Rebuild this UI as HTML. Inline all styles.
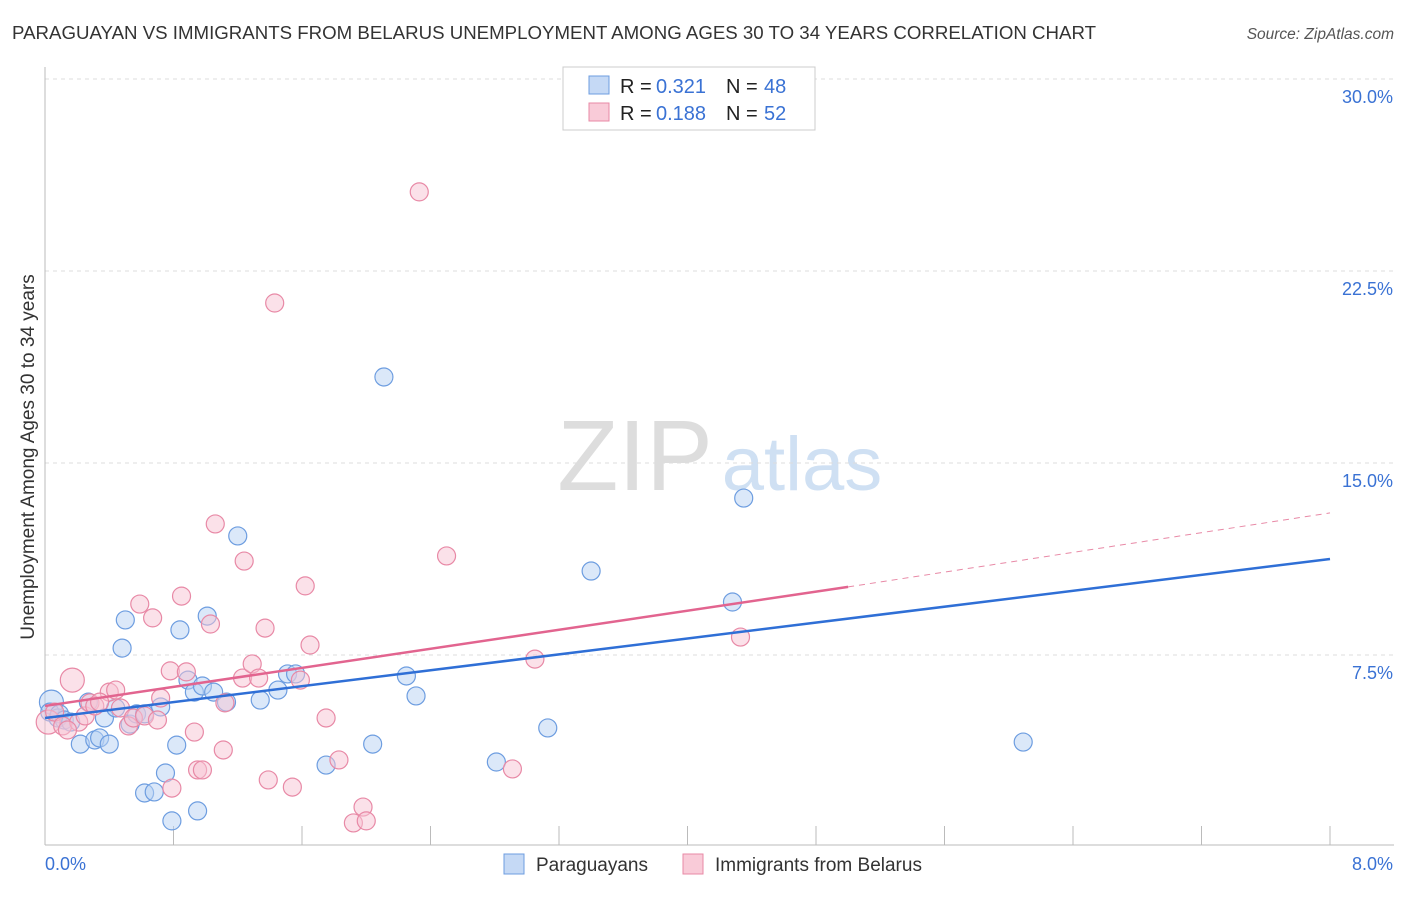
<!DOCTYPE html>
<html><head><meta charset="utf-8"><style>
body{margin:0;background:#fff;font-family:"Liberation Sans",sans-serif;}
svg text{font-family:"Liberation Sans",sans-serif;}
</style></head><body>
<svg id="chart" width="1406" height="892">
<text x="12" y="39" font-size="18" textLength="1084" lengthAdjust="spacingAndGlyphs" fill="#333">PARAGUAYAN VS IMMIGRANTS FROM BELARUS UNEMPLOYMENT AMONG AGES 30 TO 34 YEARS CORRELATION CHART</text>
<text x="1394" y="39" font-size="15.5" fill="#555" font-style="italic" text-anchor="end">Source: ZipAtlas.com</text>
<g>
<text x="635" y="490" font-size="100" fill="#ddd" font-family="Liberation Serif" text-anchor="middle">ZIP</text>
<text x="802" y="490" font-size="76" fill="#cfe0f3" text-anchor="middle">atlas</text>
</g>
<g id="grid"></g>
<g id="axes"></g>
<g id="marks"></g>
<text transform="translate(34,457) rotate(-90)" font-size="19" fill="#333" text-anchor="middle">Unemployment Among Ages 30 to 34 years</text>
<g>
<rect x="563" y="67" width="252" height="63" fill="#fff" stroke="#ccc"/>
<rect x="589" y="76" width="20" height="18" fill="#c5d9f5" stroke="#6d9de0"/>
<g font-size="20">
<text x="620" y="93" fill="#222">R =</text><text x="656" y="93" fill="#3a72d4">0.321</text>
<text x="726" y="93" fill="#222">N =</text><text x="764" y="93" fill="#3a72d4">48</text></g>
<rect x="589" y="103" width="20" height="18" fill="#f9cbd8" stroke="#e889a6"/>
<g font-size="20">
<text x="620" y="120" fill="#222">R =</text><text x="656" y="120" fill="#3a72d4">0.188</text>
<text x="726" y="120" fill="#222">N =</text><text x="764" y="120" fill="#3a72d4">52</text></g>
</g>
<g>
<rect x="504" y="854" width="20" height="20" fill="#c5d9f5" stroke="#6d9de0"/>
<text x="536" y="871" font-size="19" fill="#333">Paraguayans</text>
<rect x="683" y="854" width="20" height="20" fill="#f9cbd8" stroke="#e889a6"/>
<text x="715" y="871" font-size="19" fill="#333">Immigrants from Belarus</text>
</g>
</svg>
<script>
const xTicks=[0,0.8,1.6,2.4,3.2,4.0,4.8,5.6,6.4,7.2,8.0];
const yTicks=[7.5,15,22.5,30];
const yTickLabels=["7.5%","15.0%","22.5%","30.0%"];
const xEndLabels=["0.0%","8.0%"];
const blueX=[0.04,0.03,0.08,0.09,0.12,0.16,0.22,0.27,0.31,0.34,0.37,0.40,0.44,0.48,0.50,0.53,0.57,0.62,0.62,0.68,0.72,0.75,0.79,0.82,0.84,0.89,0.93,0.95,0.98,1.01,1.05,1.13,1.2,1.34,1.45,1.51,1.56,1.75,2.04,2.11,2.25,2.31,2.81,3.13,3.4,4.28,4.35,6.09];
const blueY=[5.66,5.27,5.04,5.2,4.96,4.88,4.02,5.66,4.18,4.26,5.04,4.02,5.43,7.77,8.87,4.8,5.2,5.2,2.11,2.15,5.47,2.89,1.02,3.98,8.48,6.52,6.05,1.41,6.29,9.02,6.05,5.66,12.15,5.74,6.13,6.76,6.76,3.2,4.02,18.36,6.68,5.9,3.32,4.65,10.78,9.57,13.63,4.1];
const pinkX=[0.02,0.06,0.11,0.17,0.21,0.25,0.28,0.31,0.4,0.44,0.47,0.52,0.55,0.59,0.62,0.67,0.7,0.72,0.78,0.79,0.85,0.88,0.93,0.95,0.98,1.03,1.06,1.11,1.12,1.23,1.24,1.29,1.33,1.37,1.39,1.43,1.54,1.59,1.62,1.65,1.75,1.83,1.92,1.98,2.0,2.33,2.5,2.91,3.05,4.33,0.14,0.34];
const pinkY=[4.88,5.27,4.73,6.52,4.88,5.12,5.63,5.51,6.05,6.13,5.43,4.73,5.04,9.49,5.12,8.95,4.96,5.82,6.88,2.3,9.8,6.84,4.49,3.01,3.01,8.71,12.62,3.79,5.63,6.6,11.17,7.15,6.6,8.55,2.62,21.25,2.34,6.52,10.2,7.89,5.04,3.4,0.94,1.56,1.02,25.59,11.37,3.05,7.34,8.2,4.57,5.66];
const blueBig=[0];const pinkBig=[0,3];
const blueTrend=[5.04,11.25];
const pinkTrend=[5.51,10.16,13.05];
const X0=45,X1=1330,Y0=847,PXY=25.6;
const sx=v=>X0+(X1-X0)*v/8;
const sy=v=>Y0-v*PXY;
const NS="http://www.w3.org/2000/svg";
function mk(tag,attrs,parent){const e=document.createElementNS(NS,tag);for(const k in attrs)e.setAttribute(k,attrs[k]);parent.appendChild(e);return e;}
const grid=document.getElementById('grid'),axes=document.getElementById('axes'),marks=document.getElementById('marks');
yTicks.forEach((t,i)=>{
 const l=mk('line',{x1:X0,x2:1394,y1:sy(t),y2:sy(t),stroke:'#ddd','stroke-dasharray':'4,4'},grid);
 
 
 const tx=mk('text',{x:1393,y:sy(t)+24,'font-size':18,fill:'#3a72d4','text-anchor':'end'},axes);
 tx.textContent=yTickLabels[i];
 
 
});
const ya=mk('line',{x1:X0,x2:X0,y1:67,y2:845,stroke:'#bbb'},axes);


const xa=mk('line',{x1:X0,x2:1394,y1:845,y2:845,stroke:'#bbb'},axes);


xTicks.forEach(t=>{if(t===0)return;
 const l=mk('line',{x1:sx(t),x2:sx(t),y1:826,y2:845,stroke:'#bbb'},axes);
 
 
});
[[0,'start',45],[8,'end',1393]].forEach((a,i)=>{
 const tx=mk('text',{x:a[2],y:870,'font-size':18,fill:'#3a72d4','text-anchor':a[1]},axes);
 tx.textContent=xEndLabels[i];
 
 
});
function dots(xs,ys,big,fill,stroke,name){
 xs.forEach((x,i)=>{
  const c=mk('circle',{cx:sx(x),cy:sy(ys[i]),r:big.includes(i)?12:9,fill:fill,'fill-opacity':0.5,stroke:stroke,'stroke-width':1.2},marks);
  
  
 });
}
dots(blueX,blueY,blueBig,'#b8d1f3','#6d9de0','paraguayan-point');
dots(pinkX,pinkY,pinkBig,'#f8c3d3','#e889a6','belarus-point');
const bl=mk('line',{x1:sx(0),y1:sy(blueTrend[0]),x2:sx(8),y2:sy(blueTrend[1]),stroke:'#2f6fd6','stroke-width':2.5},marks);


const pl=mk('line',{x1:sx(0),y1:sy(pinkTrend[0]),x2:sx(5),y2:sy(pinkTrend[1]),stroke:'#e2648f','stroke-width':2.5},marks);


const pd=mk('line',{x1:sx(5),y1:sy(pinkTrend[1]),x2:sx(8),y2:sy(pinkTrend[2]),stroke:'#e889a6','stroke-width':1,'stroke-dasharray':'6,5'},marks);


</script>
</body></html>
